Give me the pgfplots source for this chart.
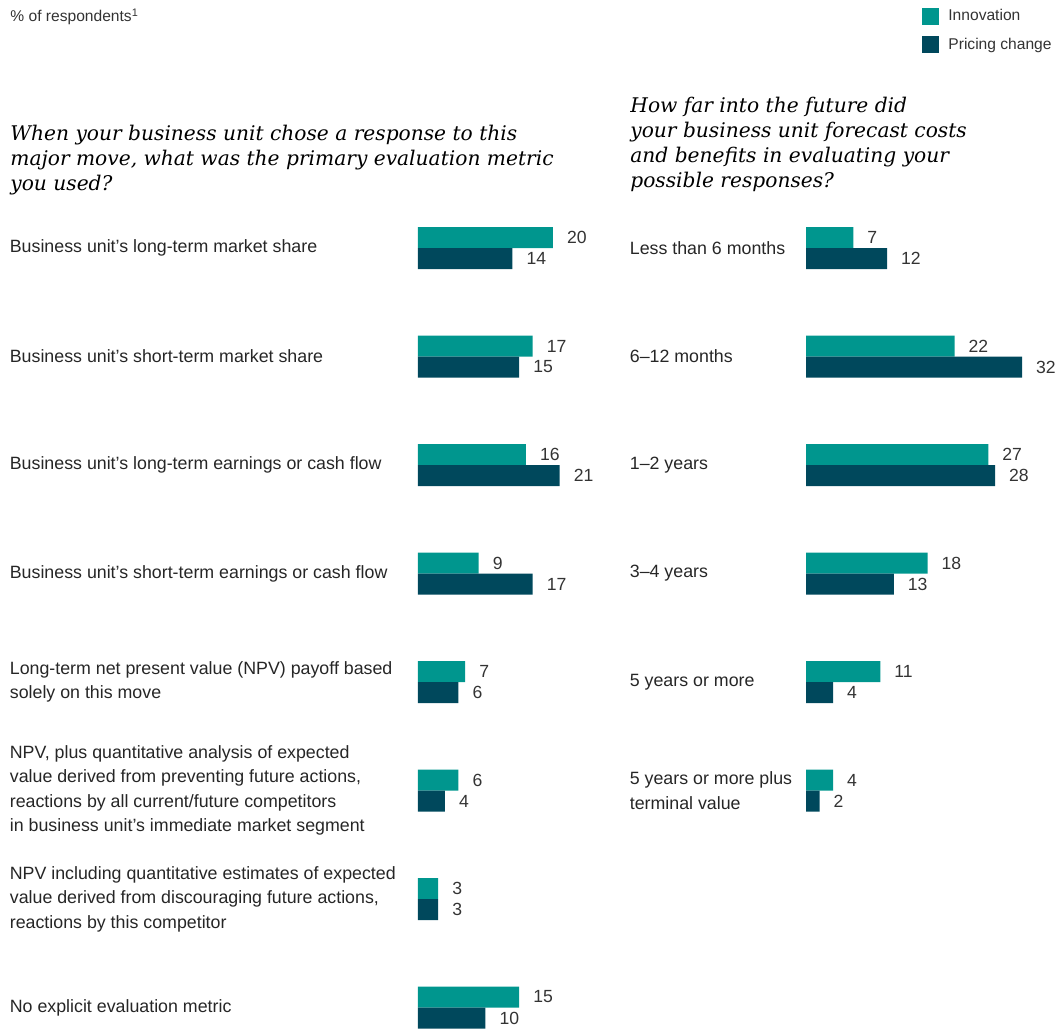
\documentclass[border=0pt]{standalone}
\usepackage{pgfplots}
\pgfplotsset{compat=1.18}
\usepackage{fontspec}
\setmainfont{Liberation Sans}
\newfontfamily\qfont{DejaVu Serif}
\definecolor{innov}{RGB}{0,150,142}
\definecolor{pricing}{RGB}{0,72,92}
\pgfplotsset{
  mybar/.style={
    xbar, bar width=10.5pt,
    x=3.375pt, y=54.25pt,
    ymin=-7.5, ymax=0.5, xmin=0,
    axis line style={draw=none},
    tick style={draw=none},
    xtick=\empty,
    clip=false,
    /pgf/number format/assume math mode=true,
    nodes near coords,
    nodes near coords style={font=\fontsize{8.8}{10}\selectfont, anchor=west, xshift=3.5pt, text=black!80},
    yticklabel style={font=\fontsize{8.9}{12.2}\selectfont, align=left, anchor=west, inner xsep=0pt, text=black!85},
  }
}
\begin{document}
\begin{tikzpicture}
\path[use as bounding box] (0,0) rectangle (528pt,-517pt);
\node[anchor=west, inner sep=0pt, font=\fontsize{7.8}{9}\selectfont, text=black!80] at (5pt,-8.5pt) {\% of respondents\textsuperscript{1}};
\node[anchor=north west, inner sep=0pt, align=left, font=\qfont\itshape\fontsize{10.1}{12.5}\selectfont] at (5pt,-62.5pt)
 {When your business unit chose a response to this\\major move, what was the primary evaluation metric\\you used?};
\node[anchor=north west, inner sep=0pt, align=left, font=\qfont\itshape\fontsize{10.1}{12.5}\selectfont] at (315pt,-48.5pt)
 {How far into the future did\\your business unit forecast costs\\and benefits in evaluating your\\possible responses?};
\begin{axis}[mybar, anchor=north west, at={(209pt,-96.875pt)},
  xmax=30,
  ytick={0,-1,-2,-3,-4,-5,-6,-7},
  yticklabel style={xshift=-200pt},
  yticklabels={{Business unit's long-term market share},
    {Business unit's short-term market share},
    {Business unit's long-term earnings or cash flow},
    {Business unit's short-term earnings or cash flow},
    {Long-term net present value (NPV) payoff based\\solely on this move},
    {NPV, plus quantitative analysis of expected\\value derived from preventing future actions,\\reactions by all current/future competitors\\in business unit's immediate market segment},
    {NPV including quantitative estimates of expected\\value derived from discouraging future actions,\\reactions by this competitor},
    {No explicit evaluation metric}},
]
\addplot[fill=innov, draw=none, bar shift=5.25pt] coordinates {(20,0) (17,-1) (16,-2) (9,-3) (7,-4) (6,-5) (3,-6) (15,-7)};
\addplot[fill=pricing, draw=none, bar shift=-5.25pt] coordinates {(14,0) (15,-1) (21,-2) (17,-3) (6,-4) (4,-5) (3,-6) (10,-7)};
\end{axis}
\begin{axis}[mybar, anchor=north west, at={(403pt,-96.875pt)},
  xmax=35,
  ytick={0,-1,-2,-3,-4,-5},
  yticklabel style={xshift=-84pt},
  yticklabels={{Less than 6 months},{6--12 months},{1--2 years},{3--4 years},{5 years or more},{5 years or more plus\\terminal value}},
  legend style={draw=none, at={(axis description cs:0.491,1.2174)}, anchor=north west, font=\fontsize{7.8}{9}\selectfont, row sep=3pt, inner sep=0pt, nodes={inner xsep=4.5pt}, cells={anchor=west}, text=black!80},
  legend image code/.code={\fill[#1] (0pt,-4.25pt) rectangle (8.5pt,4.25pt);},
]
\addplot[fill=innov, draw=none, bar shift=5.25pt] coordinates {(7,0) (22,-1) (27,-2) (18,-3) (11,-4) (4,-5)};
\addplot[fill=pricing, draw=none, bar shift=-5.25pt] coordinates {(12,0) (32,-1) (28,-2) (13,-3) (4,-4) (2,-5)};
\legend{Innovation, Pricing change}
\end{axis}
\end{tikzpicture}
\end{document}
